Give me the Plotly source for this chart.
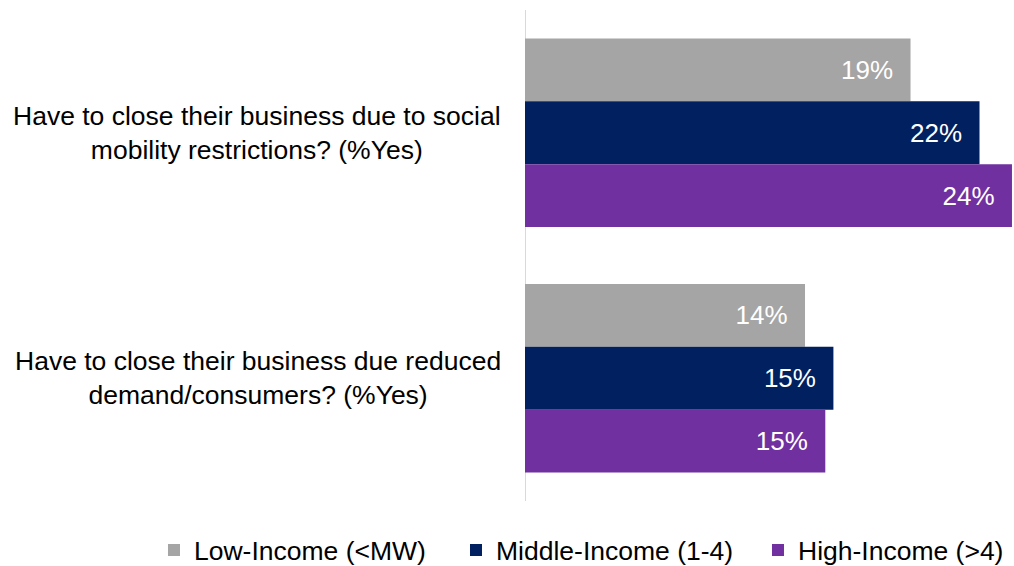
import plotly.graph_objects as go

# Survey questions (y categories)
questions = [
    "Have to close their business due to social<br>mobility restrictions? (%Yes)",
    "Have to close their business due reduced<br>demand/consumers? (%Yes)",
]

# Share answering "Yes" (%) per income group
groups = ["Low-Income (<MW)", "Middle-Income (1-4)", "High-Income (>4)"]
low_income = [19.0, 13.8]
middle_income = [22.4, 15.2]
high_income = [24.0, 14.8]
colors = ["#A5A5A5", "#002060", "#7030A0"]

FONT = "Liberation Sans, Arial, sans-serif"

fig = go.Figure()
for name, vals, col in zip(groups, [low_income, middle_income, high_income], colors):
    fig.add_trace(go.Bar(
        y=questions,
        x=vals,
        name=name,
        orientation="h",
        marker=dict(color=col, line=dict(width=0)),
        texttemplate="%{x:.0f}%\u00a0\u00a0",
        textposition="inside",
        insidetextanchor="end",
        textfont=dict(color="white", size=26, family=FONT),
        hoverinfo="skip",
    ))

# Centered, multi-line category labels to the left of the axis
for q in questions:
    fig.add_annotation(
        x=0, xref="paper", y=q, yref="y",
        text=q, showarrow=False,
        xanchor="right", yanchor="middle", align="center",
        xshift=-22,
        font=dict(size=26.5, color="#000000", family=FONT),
    )

fig.update_layout(
    width=1014, height=566,
    margin=dict(l=525, r=0, t=9.5, b=64.5, autoexpand=False),
    paper_bgcolor="white", plot_bgcolor="white",
    barmode="group",
    bargap=0.232, bargroupgap=0,
    showlegend=True,
    legend=dict(
        orientation="h",
        x=-0.7587, y=-0.1006, xanchor="left", yanchor="middle",
        entrywidth=257, entrywidthmode="pixels",
        font=dict(size=26.5, color="#000000", family=FONT),
        itemclick=False, itemdoubleclick=False,
    ),
    xaxis=dict(range=[0, 24.1], visible=False, fixedrange=True),
    yaxis=dict(
        autorange="reversed",
        showticklabels=False,
        showgrid=False, zeroline=False,
        showline=False,
        fixedrange=True,
    ),
)

# Light vertical baseline at zero
fig.add_shape(
    type="line", xref="x", yref="paper",
    x0=0, x1=0, y0=0, y1=1,
    line=dict(color="#D9D9D9", width=2),
    layer="below",
)

fig.write_html("out.html")
